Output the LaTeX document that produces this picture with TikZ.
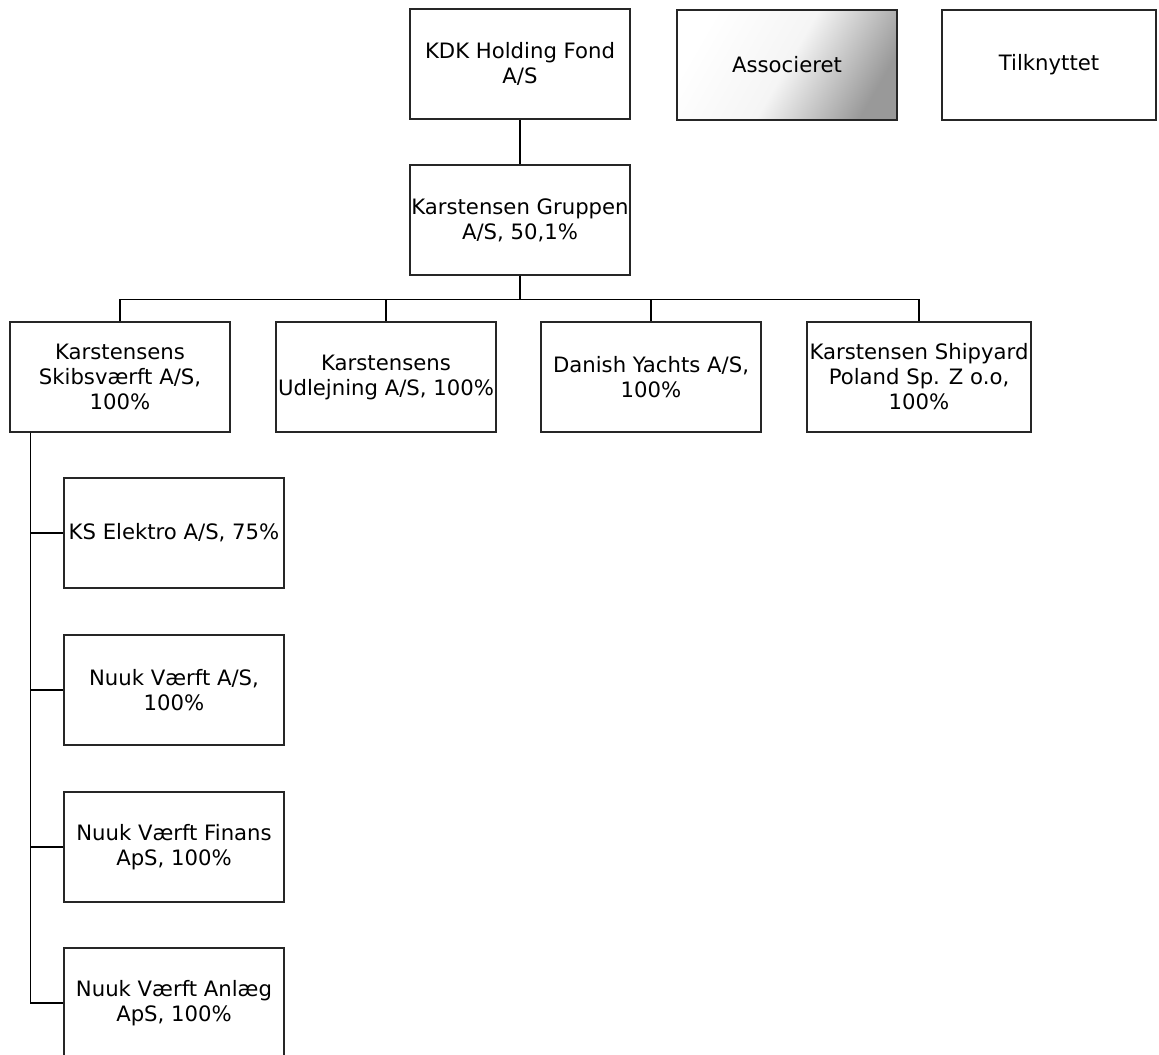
\documentclass[tikz,border=0pt]{standalone}
\usepackage{fontspec}
\setmainfont{DejaVu Sans}
\begin{document}
\begin{tikzpicture}[x=0.5pt,y=-0.5pt,line width=0.7pt,
	box/.style={draw=black!85,minimum width=110pt,minimum height=55pt,inner sep=0pt,align=center,font=\fontsize{10.6}{12.5}\selectfont}]
			\useasboundingbox (0,0) rectangle (1159,1054);
			% top row
			\node[box] (kdk) at (520,64) {KDK Holding Fond\\A/S};
			\node[box,top color=white,bottom color=gray!80,middle color=white!92!gray,shading angle=60] (assoc) at (787,65) {Associeret};
			\node[box,minimum width=107pt] (tilk) at (1049,65) {Tilknyttet};
			\node[box] (gruppen) at (520,220) {Karstensen Gruppen\\A/S, 50,1\%};
			% datterselskaber
			\node[box] (skib) at (120,377) {Karstensens\\Skibsværft A/S,\\100\%};
			\node[box] (udl) at (386,377) {Karstensens\\Udlejning A/S, 100\%};
			\node[box] (yachts) at (651,377) {Danish Yachts A/S,\\100\%};
			\node[box,minimum width=112pt] (poland) at (919,377) {Karstensen Shipyard\\Poland Sp. Z o.o,\\100\%};
			\node[box] (elektro) at (174,533) {KS Elektro A/S, 75\%};
			\node[box] (nuuk) at (174,690) {Nuuk Værft A/S,\\100\%};
			\node[box] (finans) at (174,847) {Nuuk Værft Finans\\ApS, 100\%};
			\node[box] (anlaeg) at (174,1003) {Nuuk Værft Anlæg\\ApS, 100\%};
			\draw (kdk) -- (gruppen);
			\foreach \c in {skib,udl,yachts,poland}
				\draw (gruppen.south) -- ++(0,24) -| (\c.north);
			\coordinate (spine) at ([xshift=10.5pt]skib.south west);
			\foreach \c in {elektro,nuuk,finans,anlaeg}
				\draw (spine) |- (\c.west);
		\end{tikzpicture}
\end{document}
